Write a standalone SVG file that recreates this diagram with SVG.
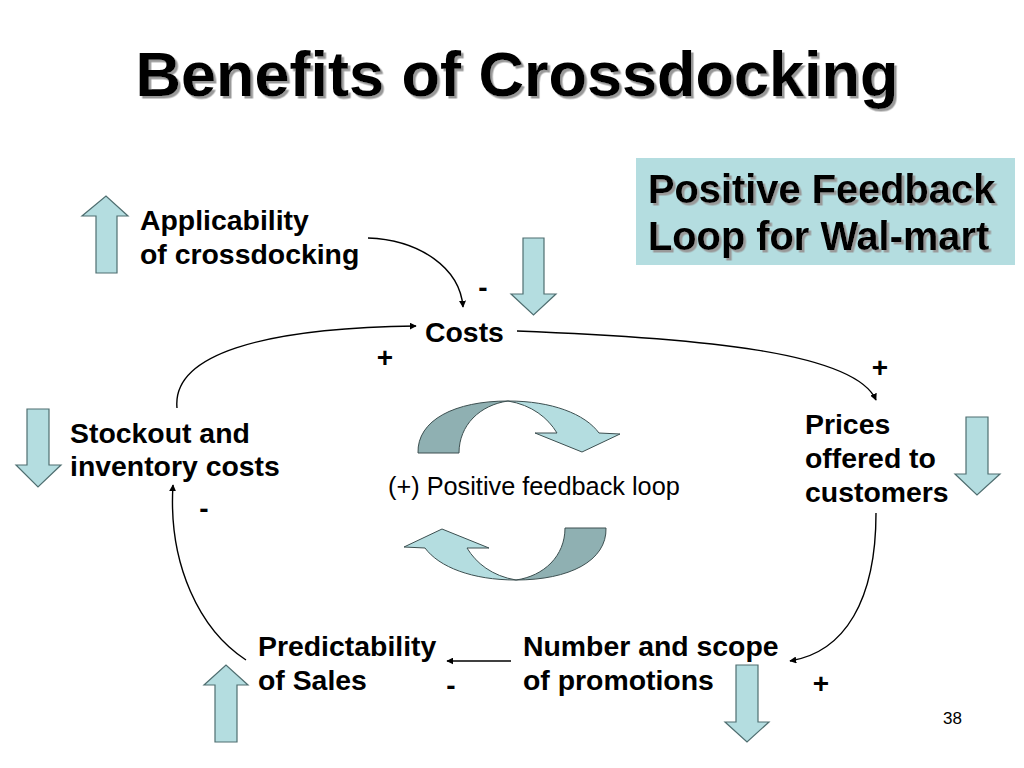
<svg xmlns="http://www.w3.org/2000/svg" width="1024" height="768" viewBox="0 0 1024 768">
<defs>
<marker id="ah" viewBox="0 0 10 10" refX="9" refY="5" markerWidth="7" markerHeight="7" markerUnits="userSpaceOnUse" orient="auto">
<path d="M0,0 L10,5 L0,10 Z" fill="#000"/>
</marker>
<filter id="shadow" x="-5%" y="-20%" width="110%" height="140%">
<feDropShadow dx="2.5" dy="2.5" stdDeviation="0.6" flood-color="#999" flood-opacity="1"/>
</filter>
<style>
.t{font-family:"Liberation Sans",Arial,sans-serif;font-weight:bold;font-size:28.4px;fill:#000}
.s{font-family:"Liberation Sans",Arial,sans-serif;font-weight:bold;font-size:28px;fill:#000}
.ttl{font-family:"Liberation Sans",Arial,sans-serif;font-weight:bold;font-size:63px;fill:#000;filter:url(#shadow)}
.box{font-family:"Liberation Sans",Arial,sans-serif;font-weight:bold;font-size:39.8px;fill:#000;filter:url(#shadow)}
.ba{fill:#b4dde0;stroke:#4f6e70;stroke-width:1.2}
.dk{fill:#8fb0b2;stroke:#3c4f50;stroke-width:1}
.lt{fill:#b4dde0;stroke:#3c4f50;stroke-width:1}
.c{fill:none;stroke:#000;stroke-width:1.4;marker-end:url(#ah)}
</style>
</defs>
<rect width="1024" height="768" fill="#fff"/>

<g id="title">
<text class="ttl" x="517" y="96" text-anchor="middle">Benefits of Crossdocking</text>
</g>

<g id="loop-box">
<rect x="636" y="158" width="379" height="107" fill="#b4dde0"/>
<text class="box" x="648" y="203">Positive Feedback</text>
<text class="box" x="648" y="250">Loop for Wal-mart</text>
</g>

<g id="connectors">
<path class="c" d="M368,238 C420,240 460,268 463,307"/>
<path class="c" d="M177,408 C172,355 260,328 416,326"/>
<path class="c" d="M517,331 C700,338 855,352 876,400"/>
<path class="c" d="M876,513 C876,600 845,652 790,661"/>
<path class="c" d="M511,661 L447,661"/>
<path class="c" d="M246,660 C200,630 168,565 173,485"/>
</g>

<g id="signs">
<text class="s" x="483" y="297" text-anchor="middle">-</text>
<text class="s" x="385" y="367" text-anchor="middle">+</text>
<text class="s" x="880" y="377" text-anchor="middle">+</text>
<text class="s" x="204" y="518" text-anchor="middle">-</text>
<text class="s" x="451" y="695" text-anchor="middle">-</text>
<text class="s" x="821" y="693" text-anchor="middle">+</text>
</g>

<g id="node-applicability">
<polygon class="ba" points="96,273 117,273 117,216 128,216 106,196 82,216 96,216"/>
<text class="t" x="140" y="230">Applicability</text>
<text class="t" x="140" y="264">of crossdocking</text>
</g>

<g id="node-costs">
<polygon class="ba" points="523,238 544,238 544,294 556,294 533.5,315 511,294 523,294"/>
<text class="t" x="425" y="342">Costs</text>
</g>

<g id="node-prices">
<polygon class="ba" points="966,417 988,417 988,474 1000,474 977,495 955,474 966,474"/>
<text class="t" x="805" y="434">Prices</text>
<text class="t" x="805" y="468">offered to</text>
<text class="t" x="805" y="502">customers</text>
</g>

<g id="node-promotions">
<polygon class="ba" points="736,665 758,665 758,722 769,722 747,742 725,722 736,722"/>
<text class="t" x="523" y="656">Number and scope</text>
<text class="t" x="523" y="690">of promotions</text>
</g>

<g id="node-predictability">
<polygon class="ba" points="215,742 237,742 237,685 248,685 226,665 204,685 215,685"/>
<text class="t" x="258" y="656">Predictability</text>
<text class="t" x="258" y="690">of Sales</text>
</g>

<g id="node-stockout">
<polygon class="ba" points="27,409 49,409 49,465 61,465 38,487 16,465 27,465"/>
<text class="t" x="70" y="443">Stockout and</text>
<text class="t" x="70" y="476">inventory costs</text>
</g>

<g id="loop-symbol">
<g id="loop-top">
<path class="dk" d="M418,453 C417,420 455,401 508,401 C480,405 459,425 459,453 Z"/>
<path class="lt" d="M508,401 C552,401 585,414 599,433 L620,434 L582,452 L535,433 L557,433 C548,418 532,405 508,401 Z"/>
</g>
<g id="loop-bottom" transform="rotate(180 512 490.5)">
<path class="dk" d="M418,453 C417,420 455,401 508,401 C480,405 459,425 459,453 Z"/>
<path class="lt" d="M508,401 C552,401 585,414 599,433 L620,434 L582,452 L535,433 L557,433 C548,418 532,405 508,401 Z"/>
</g>
<text x="388" y="495" font-family="Liberation Sans, Arial, sans-serif" font-size="25.3" fill="#000">(+) Positive feedback loop</text>
</g>

<text x="962" y="724" text-anchor="end" font-family="Liberation Sans, Arial, sans-serif" font-size="17" fill="#000">38</text>
</svg>
